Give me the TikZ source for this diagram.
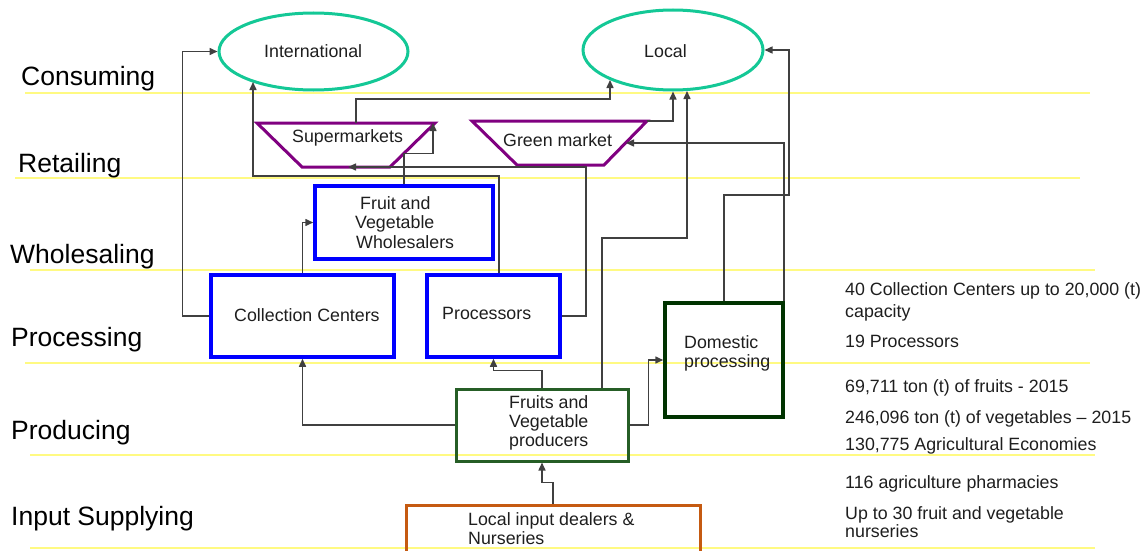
\documentclass[tikz,border=0pt]{standalone}
\usepackage{fontspec}
\setmainfont{Liberation Sans}
\usetikzlibrary{arrows.meta,shapes.geometric,calc}
\definecolor{ylw}{RGB}{255,250,130}
\definecolor{teal2}{RGB}{20,200,150}
\definecolor{purp}{RGB}{128,0,128}
\definecolor{blu}{RGB}{0,0,255}
\definecolor{domg}{RGB}{0,51,0}
\definecolor{prodg}{RGB}{38,94,38}
\definecolor{orng}{RGB}{197,90,17}
\definecolor{txtc}{RGB}{30,30,30}
\begin{document}
\begin{tikzpicture}[x=1pt,y=-1pt,
  txt/.style={font=\fontsize{17.8}{20}\selectfont, inner sep=0pt, anchor=base west, text=txtc},
  stage/.style={font=\fontsize{26.5}{30}\selectfont, inner sep=0pt, anchor=base west, text=black},
  yline/.style={draw=ylw, line width=1.6pt},
  ell/.style={ellipse, draw=teal2, line width=3pt, inner sep=0pt},
  bbox/.style={rectangle, draw=blu, line width=3.5pt, inner sep=0pt},
  trapbox/.style={rectangle, draw=none, inner sep=0pt, outer sep=0pt},
  trapline/.style={draw=purp, line width=3pt, line join=miter},
  conn/.style={draw=black!75, line width=1.5pt, -{Triangle[length=8pt,width=7pt]}}]
\path[use as bounding box] (0,0) rectangle (1143,551);
\clip (0,0) rectangle (1143,551);

% stage separator lines
\coordinate (l1a) at (25,93);   \coordinate (l1b) at (1090,93);
\coordinate (l2a) at (15,178);  \coordinate (l2b) at (1080,178);
\coordinate (l3a) at (30,270);  \coordinate (l3b) at (1095,270);
\coordinate (l4a) at (25,363);  \coordinate (l4b) at (1090,363);
\coordinate (l5a) at (30,455);  \coordinate (l5b) at (1095,455);
\coordinate (l6a) at (30,548);  \coordinate (l6b) at (1095,548);
\draw[yline] (l1a) -- (l1b);
\draw[yline] (l2a) -- (l2b);
\draw[yline] (l3a) -- (l3b);
\draw[yline] (l4a) -- (l4b);
\draw[yline] (l5a) -- (l5b);
\draw[yline] (l6a) -- (l6b);

% stage labels
\node[stage] (sCons) at (21,85) {Consuming};
\node[stage] (sRet) at (18,172) {Retailing};
\node[stage] (sWhl) at (10,263) {Wholesaling};
\node[stage] (sProc) at (11,346) {Processing};
\node[stage] (sProd) at (11,439) {Producing};
\node[stage] (sInp) at (11,525) {Input Supplying};

% consumers
\node[ell, minimum width=189pt, minimum height=77pt] (intl) at (313.5,51.5) {};
\node[txt] (intlt) at (264,58) {International};
\node[ell, minimum width=180pt, minimum height=80pt] (loc) at (673,50) {};
\node[txt] (loct) at (644,58) {Local};

% retail trapezoids
\node[trapbox, minimum width=178pt, minimum height=44pt] (sup) at (346,145) {};
\draw[trapline] (sup.north west) -- (sup.north east) -- ([xshift=-45pt]sup.south east) -- ([xshift=45pt]sup.south west) -- cycle;
\node[txt] (supt) at (292,142) {Supermarkets};
\node[trapbox, minimum width=175pt, minimum height=44pt] (grn) at (559.5,143) {};
\draw[trapline] (grn.north west) -- (grn.north east) -- ([xshift=-43pt]grn.south east) -- ([xshift=45pt]grn.south west) -- cycle;
\node[txt] (grnt) at (503,146) {Green market};

% wholesalers / processing
\node[bbox, minimum width=178pt, minimum height=73pt] (whl) at (404,222.5) {};
\node[txt] (whlt1) at (360,209) {Fruit and};
\node[txt] (whlt2) at (355,228) {Vegetable};
\node[txt] (whlt3) at (356,248) {Wholesalers};
\node[bbox, minimum width=183pt, minimum height=82pt] (cc) at (302.5,316) {};
\node[txt] (cct) at (234,321) {Collection Centers};
\node[bbox, minimum width=133pt, minimum height=82pt] (pr) at (493.5,316) {};
\node[txt] (prt) at (442,319) {Processors};
\node[rectangle, draw=domg, line width=3.5pt, inner sep=0pt, minimum width=118pt, minimum height=114pt] (dom) at (724,360) {};
\node[txt] (domt1) at (684,348) {Domestic};
\node[txt] (domt2) at (684,367) {processing};

% producers
\node[rectangle, draw=prodg, line width=3pt, inner sep=0pt, minimum width=172pt, minimum height=72pt] (prod) at (542,425) {};
\node[txt] (prodt1) at (509,408) {Fruits and};
\node[txt] (prodt2) at (509,427) {Vegetable};
\node[txt] (prodt3) at (509,446) {producers};

% input supply
\node[rectangle, draw=orng, line width=3pt, inner sep=0pt, minimum width=294pt, minimum height=96pt] (inp) at (553,553) {};
\node[txt] (inpt1) at (468,525) {Local input dealers \&};
\node[txt] (inpt2) at (468,544) {Nurseries};

% right-side facts
\node[txt] (f1) at (845,295) {40 Collection Centers up to 20,000 (t)};
\node[txt] (f1b) at (845,317) {capacity};
\node[txt] (f2) at (845,347) {19 Processors};
\node[txt] (f3) at (845,392) {69,711 ton (t) of fruits - 2015};
\node[txt] (f4) at (845,423) {246,096 ton (t) of vegetables -- 2015};
\node[txt] (f5) at (845,450) {130,775 Agricultural Economies};
\node[txt] (f6) at (845,488) {116 agriculture pharmacies};
\node[txt] (f7) at (845,519) {Up to 30 fruit and vegetable};
\node[txt] (f7b) at (845,537) {nurseries};

% connectors
\draw[conn] (cc.west) -- ++(-27,0) |- (intl.west);
\draw[conn] ([xshift=5.5pt]pr.north) |- (253,176) -- (253,82);
\draw[conn] (whl.north) -- ++(0,-31) -| ([xshift=-2pt]sup.north east);
\draw[conn] (pr.east) -- ++(24,0) |- ([xshift=2pt]sup.south);
\draw[conn] ([xshift=10pt]sup.north) |- (610,99) -- (610,80);
\draw[conn] (grn.north east) -| (loc.south);
\draw[conn] ([xshift=60pt]prod.north) |- (687,238) -- (687,91);
\draw[conn] ([xshift=-1pt]dom.north east) |- ([xshift=-21pt]grn.east);
\draw[conn] (dom.north) |- (789,195) |- (loc.east);
\draw[conn] (cc.north) |- (whl.west);
\draw[conn] (prod.west) -| (cc.south);
\draw[conn] (prod.north) -- ++(0,-17) -| (pr.south);
\draw[conn] (prod.east) -- ++(19,0) |- (dom.west);
\draw[conn] (inp.north) -- ++(0,-21) -| (prod.south);
\end{tikzpicture}
\end{document}
